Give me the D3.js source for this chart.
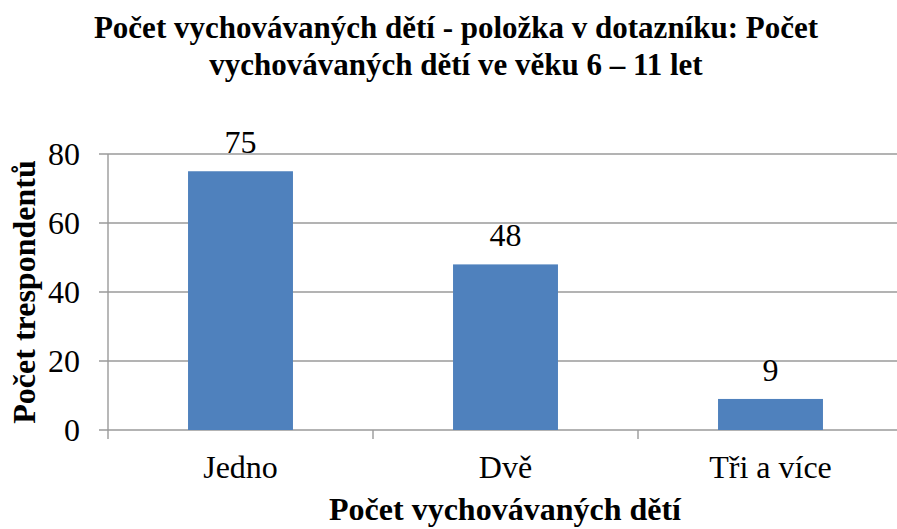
<!DOCTYPE html>
<html>
<head>
<meta charset="utf-8">
<script src="https://cdn.jsdelivr.net/npm/d3@7"></script>
<style>
  body { margin: 0; background: #fff; }
</style>
</head>
<body>
<div id="chart"></div>
<script>
// 資料
var categories = ["Jedno", "Dvě", "Tři a více"];
var values = [75, 48, 9];
var yTicks = [0, 20, 40, 60, 80];

var titleLines = ["Počet vychovávaných dětí - položka v dotazníku: Počet", "vychovávaných dětí ve věku 6 – 11 let"];
var xTitle = "Počet vychovávaných dětí";
var yTitle = "Počet trespondentů";

var width = 897, height = 529;
var serif = "'Times New Roman', Tinos, 'Liberation Serif', serif";

var svg = d3.select("#chart").append("svg")
  .attr("width", width)
  .attr("height", height);

// 比例尺
var x = d3.scaleBand()
  .domain(categories)
  .range([108, 903])
  .paddingInner(0.604)
  .paddingOuter(0.302);

var y = d3.scaleLinear()
  .domain([0, 80])
  .range([430, 154]);

// 格線
svg.append("g")
  .selectAll("line")
  .data(yTicks)
  .enter().append("line")
  .attr("x1", 99)
  .attr("x2", width)
  .attr("y1", d => y(d))
  .attr("y2", d => y(d))
  .style("stroke", "#9a9a9a")
  .style("stroke-width", 1.4);

// y 軸
svg.append("line")
  .attr("x1", 108).attr("x2", 108)
  .attr("y1", y(80)).attr("y2", y(0))
  .style("stroke", "#9a9a9a")
  .style("stroke-width", 1.4);

// x 軸刻度 (類別邊界)
var bandEdges = categories.map(c => x(c) - (x.step() - x.bandwidth()) / 2);
svg.append("g")
  .selectAll("line")
  .data(bandEdges)
  .enter().append("line")
  .attr("x1", d => d).attr("x2", d => d)
  .attr("y1", y(0)).attr("y2", y(0) + 9)
  .style("stroke", "#9a9a9a")
  .style("stroke-width", 1.4);

// y 軸標籤
svg.append("g")
  .selectAll("text")
  .data(yTicks)
  .enter().append("text")
  .attr("x", 80)
  .attr("y", d => y(d) + 11)
  .attr("text-anchor", "end")
  .attr("font-family", serif)
  .style("font-size", "32px")
  .text(d => d);

// 長條
svg.append("g")
  .selectAll("rect")
  .data(values)
  .enter().append("rect")
  .attr("x", (d, i) => x(categories[i]))
  .attr("width", x.bandwidth())
  .attr("y", d => y(d))
  .attr("height", d => y(0) - y(d))
  .attr("fill", "#4f81bd");

// 數值標籤
svg.append("g")
  .selectAll("text")
  .data(values)
  .enter().append("text")
  .attr("x", (d, i) => x(categories[i]) + x.bandwidth() / 2)
  .attr("y", d => y(d) - 18)
  .attr("text-anchor", "middle")
  .attr("font-family", serif)
  .style("font-size", "32px")
  .text(d => d);

// 類別標籤
svg.append("g")
  .selectAll("text")
  .data(categories)
  .enter().append("text")
  .attr("x", d => x(d) + x.bandwidth() / 2)
  .attr("y", 478)
  .attr("text-anchor", "middle")
  .attr("font-family", serif)
  .style("font-size", "32px")
  .text(d => d);

// 標題
svg.append("g")
  .selectAll("text")
  .data(titleLines)
  .enter().append("text")
  .attr("x", 456)
  .attr("y", (d, i) => 38 + i * 37)
  .attr("text-anchor", "middle")
  .attr("font-family", serif)
  .style("font-size", "31px")
  .style("font-weight", "bold")
  .text(d => d);

// x 軸標題
svg.append("text")
  .attr("x", 505)
  .attr("y", 520)
  .attr("text-anchor", "middle")
  .attr("font-family", serif)
  .style("font-size", "32px")
  .style("font-weight", "bold")
  .text(xTitle);

// y 軸標題
svg.append("text")
  .attr("transform", "translate(35,292) rotate(-90)")
  .attr("text-anchor", "middle")
  .attr("font-family", serif)
  .style("font-size", "32px")
  .style("font-weight", "bold")
  .text(yTitle);
</script>
</body>
</html>
